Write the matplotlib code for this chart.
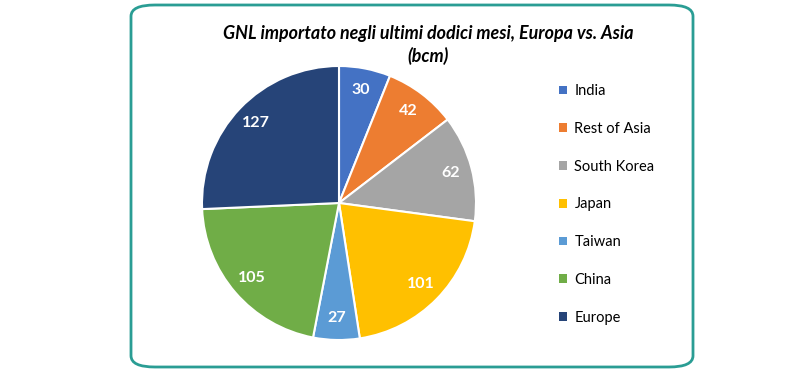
import matplotlib
matplotlib.use('Agg')
import matplotlib.pyplot as plt
from matplotlib.patches import FancyBboxPatch, Patch

# data
labels = ['India', 'Rest of Asia', 'South Korea', 'Japan', 'Taiwan', 'China', 'Europe']
values = [30, 42, 62, 101, 27, 105, 127]
colors = ['#4472C4', '#ED7D31', '#A5A5A5', '#FFC000', '#5B9BD5', '#70AD47', '#264478']
title = 'GNL importato negli ultimi dodici mesi, Europa vs. Asia\n(bcm)'

plt.rcParams['font.family'] = ['Lato', 'DejaVu Sans']

fig = plt.figure(figsize=(8, 3.75), dpi=100)

# rounded frame around the chart
frame = FancyBboxPatch((131 / 800, 1 - 367 / 375), (693 - 131) / 800, (367 - 5) / 375,
                       boxstyle='round,pad=0,rounding_size=0.03',
                       transform=fig.transFigure, facecolor='none',
                       edgecolor='#2A9D94', linewidth=2, zorder=5)
fig.patches.append(frame)

fig.text(428 / 800, 1 - 45 / 375, title, ha='center', va='center',
         fontsize=12.9, fontweight='bold', style='italic', linespacing=1.3)

ax = fig.add_axes([(339 - 137) / 800, 1 - (203 + 137) / 375, 274 / 800, 274 / 375])
wedges, texts, autotexts = ax.pie(values, colors=colors, startangle=90, counterclock=False,
                                  autopct=lambda p: '%d' % round(p * sum(values) / 100),
                                  pctdistance=0.84,
                                  wedgeprops=dict(edgecolor='white', linewidth=1.5))
for t in autotexts:
    t.set_color('white')
    t.set_fontweight('bold')
    t.set_fontsize(11.5)
ax.set_xlim(-1, 1)
ax.set_ylim(-1, 1)
ax.set_aspect('equal')
ax.axis('off')

handles = [Patch(facecolor=c, edgecolor='none') for c in colors]
fig.legend(handles, labels, loc='upper left', bbox_to_anchor=(546 / 800, 1 - 71 / 375),
           frameon=False, fontsize=10.5, labelspacing=1.63,
           handlelength=0.55, handleheight=0.55, handletextpad=0.5)

fig.savefig('out.png', dpi=100)
